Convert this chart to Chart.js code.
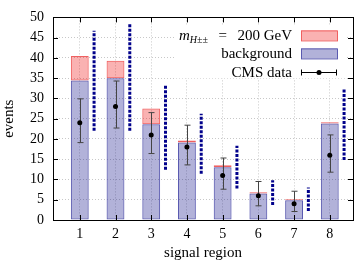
<!DOCTYPE html>
<html>
<head>
<meta charset="utf-8">
<script src="https://cdn.jsdelivr.net/npm/chart.js@4.4.0/dist/chart.umd.min.js"></script>
<style>
  html, body { margin: 0; background: #fff; }
  #wrap { width: 357px; height: 261px; position: relative; }
</style>
</head>
<body>
<div id="wrap"><canvas id="chart"></canvas></div>
<script>
// values
const regions = [1, 2, 3, 4, 5, 6, 7, 8];
const background = [34.4, 35.0, 23.6, 19.1, 13.0, 6.55, 4.9, 23.8];
const signal = [6.1, 4.3, 3.9, 0.5, 0.5, 0.3, 0.2, 0.3];     // m_H++ = 200 GeV on top of bkg
const observed = [24, 28, 21, 18, 11, 6, 4, 16];
const obsLow = [19.1, 22.7, 16.4, 13.6, 7.6, 3.5, 2.1, 11.8];
const obsHigh = [29.9, 34.3, 26.5, 23.4, 15.3, 9.5, 7.1, 21.0];
const rangeLow = [22.0, 22.0, 12.4, 11.4, 7.8, 3.7, 2.2, 14.8];  // blue dashed bands
const rangeHigh = [46.7, 48.6, 33.4, 26.2, 18.3, 9.8, 8.0, 32.3];
const yTicks = [0, 5, 10, 15, 20, 25, 30, 35, 40, 45, 50];

const FONT = "'Liberation Serif', 'DejaVu Serif', serif";
const RANGE_SHIFT = 0.4;
const OBS_INDEX = 2;

const bgBars = regions.map((r, i) => ({ x: r, y: [0, background[i]] }));
const sigBars = regions.map((r, i) => ({ x: r, y: [background[i], background[i] + signal[i]] }));
const obsPoints = regions.map((r, i) => ({ x: r, y: observed[i] }));
const rangeLines = [];
regions.forEach((r, i) => {
    rangeLines.push({ x: r + RANGE_SHIFT, y: rangeLow[i] });
    rangeLines.push({ x: r + RANGE_SHIFT, y: rangeHigh[i] });
    rangeLines.push({ x: r + RANGE_SHIFT, y: null });
});

const decor = {
    id: 'decor',
    beforeDatasetDraw(chart, args) {
        if (args.index !== OBS_INDEX) return;
        const { ctx, scales: { x, y } } = chart;
        ctx.save();
        ctx.strokeStyle = '#444';
        ctx.lineWidth = 1;
        regions.forEach((r, i) => {
            const px = Math.round(x.getPixelForValue(r)) + 0.5;
            const top = y.getPixelForValue(obsHigh[i]);
            const bot = y.getPixelForValue(obsLow[i]);
            ctx.beginPath();
            ctx.moveTo(px, top); ctx.lineTo(px, bot);
            ctx.moveTo(px - 3, top); ctx.lineTo(px + 3, top);
            ctx.moveTo(px - 3, bot); ctx.lineTo(px + 3, bot);
            ctx.stroke();
        });
        ctx.restore();
    },
    afterDatasetsDraw(chart) {
        const { ctx, chartArea: a, scales: { x, y } } = chart;
        ctx.save();
        ctx.strokeStyle = '#000';
        ctx.lineWidth = 1;
        ctx.beginPath();
        // inward ticks on all four sides
        yTicks.forEach(v => {
            const py = Math.round(y.getPixelForValue(v)) + 0.5;
            ctx.moveTo(a.left, py); ctx.lineTo(a.left + 5, py);
            ctx.moveTo(a.right, py); ctx.lineTo(a.right - 5, py);
        });
        regions.forEach(v => {
            const px = Math.round(x.getPixelForValue(v)) + 0.5;
            ctx.moveTo(px, a.bottom); ctx.lineTo(px, a.bottom - 5);
            ctx.moveTo(px, a.top); ctx.lineTo(px, a.top + 5);
        });
        ctx.stroke();
        ctx.strokeRect(Math.round(a.left) + 0.5, Math.round(a.top) + 0.5,
            Math.round(a.right - a.left), Math.round(a.bottom - a.top));
        ctx.restore();
    },
    afterDraw(chart) {
        const { ctx, chartArea: a } = chart;
        ctx.save();
        ctx.fillStyle = '#fff';
        ctx.fillRect(a.right - 178, a.top + 8, 171, 53);

        const textRight = a.right - 61;
        const s0 = a.right - 52, s1 = a.right - 16;
        const rows = [a.top + 18, a.top + 36, a.top + 55];
        ctx.fillStyle = '#000';
        ctx.textBaseline = 'alphabetic';

        // row 1: m_{H±±} = 200 GeV
        const parts = [
            { t: 'm', f: 'italic 15px ' + FONT, dy: 0 },
            { t: 'H', f: 'italic 10px ' + FONT, dy: 3 },
            { t: '\u00b1\u00b1', f: '10px ' + FONT, dy: 3 },
            { t: '\u2002\u2009=\u2002\u2009200 GeV', f: '15px ' + FONT, dy: 0 }
        ];
        let w = 0;
        parts.forEach(p => { ctx.font = p.f; w += ctx.measureText(p.t).width; });
        let cx = textRight - w;
        parts.forEach(p => {
            ctx.font = p.f;
            ctx.fillText(p.t, cx, rows[0] + 5 + p.dy);
            cx += ctx.measureText(p.t).width;
        });

        ctx.font = '15px ' + FONT;
        ctx.textAlign = 'right';
        ctx.fillText('background', textRight, rows[1] + 5);
        ctx.fillText('CMS data', textRight, rows[2] + 5);

        // samples
        ctx.lineWidth = 1;
        ctx.fillStyle = 'rgba(240,0,0,0.3)';
        ctx.strokeStyle = '#f06060';
        ctx.fillRect(s0, rows[0] - 5, s1 - s0, 10);
        ctx.strokeRect(s0 + 0.5, rows[0] - 4.5, s1 - s0, 10);
        ctx.fillStyle = 'rgba(0,0,128,0.3)';
        ctx.strokeStyle = '#5a5ab0';
        ctx.fillRect(s0, rows[1] - 5, s1 - s0, 10);
        ctx.strokeRect(s0 + 0.5, rows[1] - 4.5, s1 - s0, 10);

        const ly = Math.round(rows[2]) + 0.5;
        ctx.strokeStyle = '#000';
        ctx.beginPath();
        ctx.moveTo(s0, ly); ctx.lineTo(s1, ly);
        ctx.moveTo(s0 + 0.5, ly - 3); ctx.lineTo(s0 + 0.5, ly + 3);
        ctx.moveTo(s1 - 0.5, ly - 3); ctx.lineTo(s1 - 0.5, ly + 3);
        ctx.stroke();
        ctx.fillStyle = '#000';
        ctx.beginPath();
        ctx.arc((s0 + s1) / 2, ly, 2.5, 0, Math.PI * 2);
        ctx.fill();
        ctx.restore();
    }
};

const ctx = document.getElementById('chart').getContext('2d');
new Chart(ctx, {
    type: 'bar',
    data: {
        datasets: [
            {
                type: 'line',
                label: 'range',
                data: rangeLines,
                borderColor: '#00008b',
                borderWidth: 3,
                borderDash: [3, 1.5],
                borderCapStyle: 'butt',
                pointRadius: 0,
                spanGaps: false,
                fill: false,
                order: 0
            },
            {
                label: 'm_H++ = 200 GeV',
                data: sigBars,
                backgroundColor: 'rgba(240,0,0,0.3)',
                borderColor: '#f06060',
                borderWidth: 1,
                borderSkipped: false,
                grouped: false,
                barPercentage: 0.5,
                categoryPercentage: 1,
                order: 3
            },
            {
                type: 'line',
                label: 'CMS data',
                data: obsPoints,
                showLine: false,
                pointRadius: 2.5,
                pointBackgroundColor: '#000',
                pointBorderColor: '#000',
                pointBorderWidth: 0,
                order: 1
            },
            {
                label: 'background',
                data: bgBars,
                backgroundColor: 'rgba(0,0,128,0.3)',
                borderColor: '#5a5ab0',
                borderWidth: 1,
                borderSkipped: false,
                grouped: false,
                barPercentage: 0.5,
                categoryPercentage: 1,
                order: 2
            }
        ]
    },
    options: {
        responsive: true,
        maintainAspectRatio: false,
        animation: false,
        layout: { padding: { top: 6, right: 3, left: 0, bottom: 0 } },
        plugins: { legend: { display: false }, tooltip: { enabled: false } },
        scales: {
            x: {
                type: 'linear',
                min: 0.25,
                max: 8.65,
                offset: false,
                afterBuildTicks: s => { s.ticks = regions.map(v => ({ value: v })); },
                afterFit: s => { s.height = 41; },
                grid: { color: '#c8c8c8', drawTicks: false, offset: false },
                border: { display: false, dash: [1, 2] },
                ticks: { color: '#000', padding: 6, font: { family: FONT, size: 14 } },
                title: {
                    display: true, text: 'signal region', color: '#000',
                    padding: { top: 0, bottom: -1 }, font: { family: FONT, size: 15 }
                }
            },
            y: {
                min: 0,
                max: 50,
                stacked: false,
                afterBuildTicks: s => { s.ticks = yTicks.map(v => ({ value: v })); },
                afterFit: s => { s.width = 53; },
                grid: { color: '#c8c8c8', drawTicks: false },
                border: { display: false, dash: [1, 2] },
                ticks: { color: '#000', padding: 9, font: { family: FONT, size: 14 } },
                title: {
                    display: true, text: 'events', color: '#000',
                    padding: { top: 0, bottom: 0 }, font: { family: FONT, size: 15 }
                }
            }
        }
    },
    plugins: [decor]
});
</script>
</body>
</html>
